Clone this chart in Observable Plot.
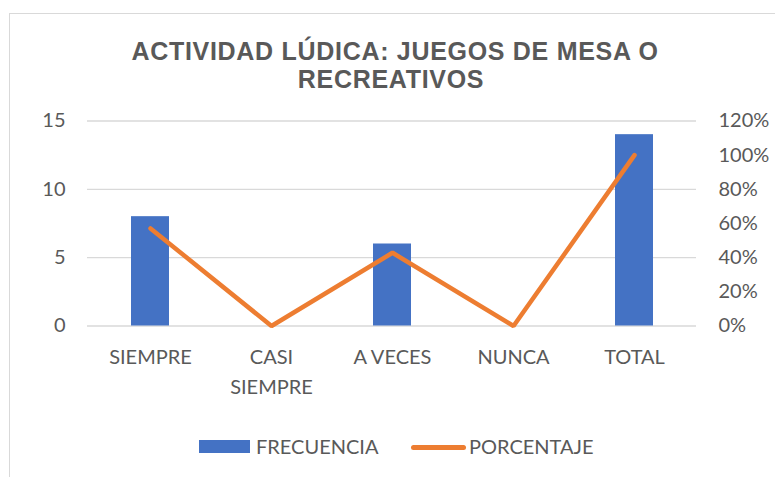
<!DOCTYPE html>
<html>
<head>
<meta charset="utf-8">
<script src="https://cdn.jsdelivr.net/npm/d3@7"></script>
<script src="https://cdn.jsdelivr.net/npm/@observablehq/plot@0.6"></script>
<style>
  html, body { margin: 0; padding: 0; background: #fff; }
  #wrap { position: relative; width: 775px; height: 477px; overflow: hidden; background: #fff; }
  #frame { position: absolute; left: 9px; top: 13px; width: 820px; height: 520px; border: 1.5px solid #d9d9d9; box-sizing: border-box; }
  .title { position: absolute; left: 0; width: 790px; text-align: center; font-family: "Liberation Sans", Arial, sans-serif; font-weight: bold; font-size: 25px; letter-spacing: 0.7px; color: #595959; line-height: 30px; white-space: nowrap; }
  #chart { position: absolute; left: 0; top: 0; }
  .leg { position: absolute; font-family: Lato, sans-serif; font-size: 20px; color: #595959; line-height: 24px; white-space: nowrap; }
</style>
</head>
<body>
<div id="wrap">
  <div id="frame"></div>
  <div id="chart"></div>
  <div class="title" style="top:36px">ACTIVIDAD LÚDICA: JUEGOS DE MESA O</div>
  <div class="title" style="top:63.5px; left:-4px">RECREATIVOS</div>
  <div id="legend"></div>
</div>
<script>
const categories = ["SIEMPRE", "CASI SIEMPRE", "A VECES", "NUNCA", "TOTAL"];
const frecuencia = [8, 0, 6, 0, 14];
const porcentaje = [57.14, 0, 42.86, 0, 100];
const leftTicks = [0, 5, 10, 15];
const rightTicks = [0, 20, 40, 60, 80, 100, 120];
const seriesNames = ["FRECUENCIA", "PORCENTAJE"];

const data = categories.map((c, i) => ({cat: c, frec: frecuencia[i], pct: porcentaje[i]}));
const pctToY = p => p * 15 / 120;

const chart = Plot.plot({
  width: 775,
  height: 477,
  marginLeft: 87,
  marginRight: 79,
  marginTop: 120.5,
  marginBottom: 151.5,
  style: {fontFamily: "Lato, sans-serif", fontSize: "20px", color: "#595959", background: "transparent", overflow: "visible"},
  x: {domain: categories, paddingInner: 0.69, paddingOuter: 0.345, axis: null},
  y: {domain: [0, 15], axis: null},
  marks: [
    Plot.gridY(leftTicks, {stroke: "#d9d9d9", strokeOpacity: 1, strokeWidth: 1.3}),
    Plot.barY(data, {x: "cat", y: "frec", fill: "#4472C4"}),
    Plot.line(data, {x: "cat", y: d => pctToY(d.pct), stroke: "#ED7D31", strokeWidth: 4.5, strokeLinejoin: "miter", strokeLinecap: "round"}),
    Plot.axisY(leftTicks, {anchor: "left", label: null, tickSize: 0, tickPadding: 22, fontSize: 20}),
    Plot.axisY(rightTicks.map(pctToY), {anchor: "right", label: null, tickSize: 0, tickPadding: 22, fontSize: 20, tickFormat: v => Math.round(v * 120 / 15) + "%"}),
    Plot.axisX(categories, {anchor: "bottom", label: null, tickSize: 0, tickPadding: 17, fontSize: 20, lineHeight: 1.5, tickFormat: d => d === "CASI SIEMPRE" ? "CASI\nSIEMPRE" : d})
  ]
});
document.getElementById("chart").appendChild(chart);

// legend
const leg = document.getElementById("legend");
leg.innerHTML = `
  <div style="position:absolute;left:199px;top:440px;width:51px;height:13px;background:#4472C4"></div>
  <div class="leg" style="left:256px;top:434px">${seriesNames[0]}</div>
  <div style="position:absolute;left:411px;top:444.5px;width:55px;height:5px;border-radius:3px;background:#ED7D31"></div>
  <div class="leg" style="left:469px;top:434px">${seriesNames[1]}</div>
`;
</script>
</body>
</html>
